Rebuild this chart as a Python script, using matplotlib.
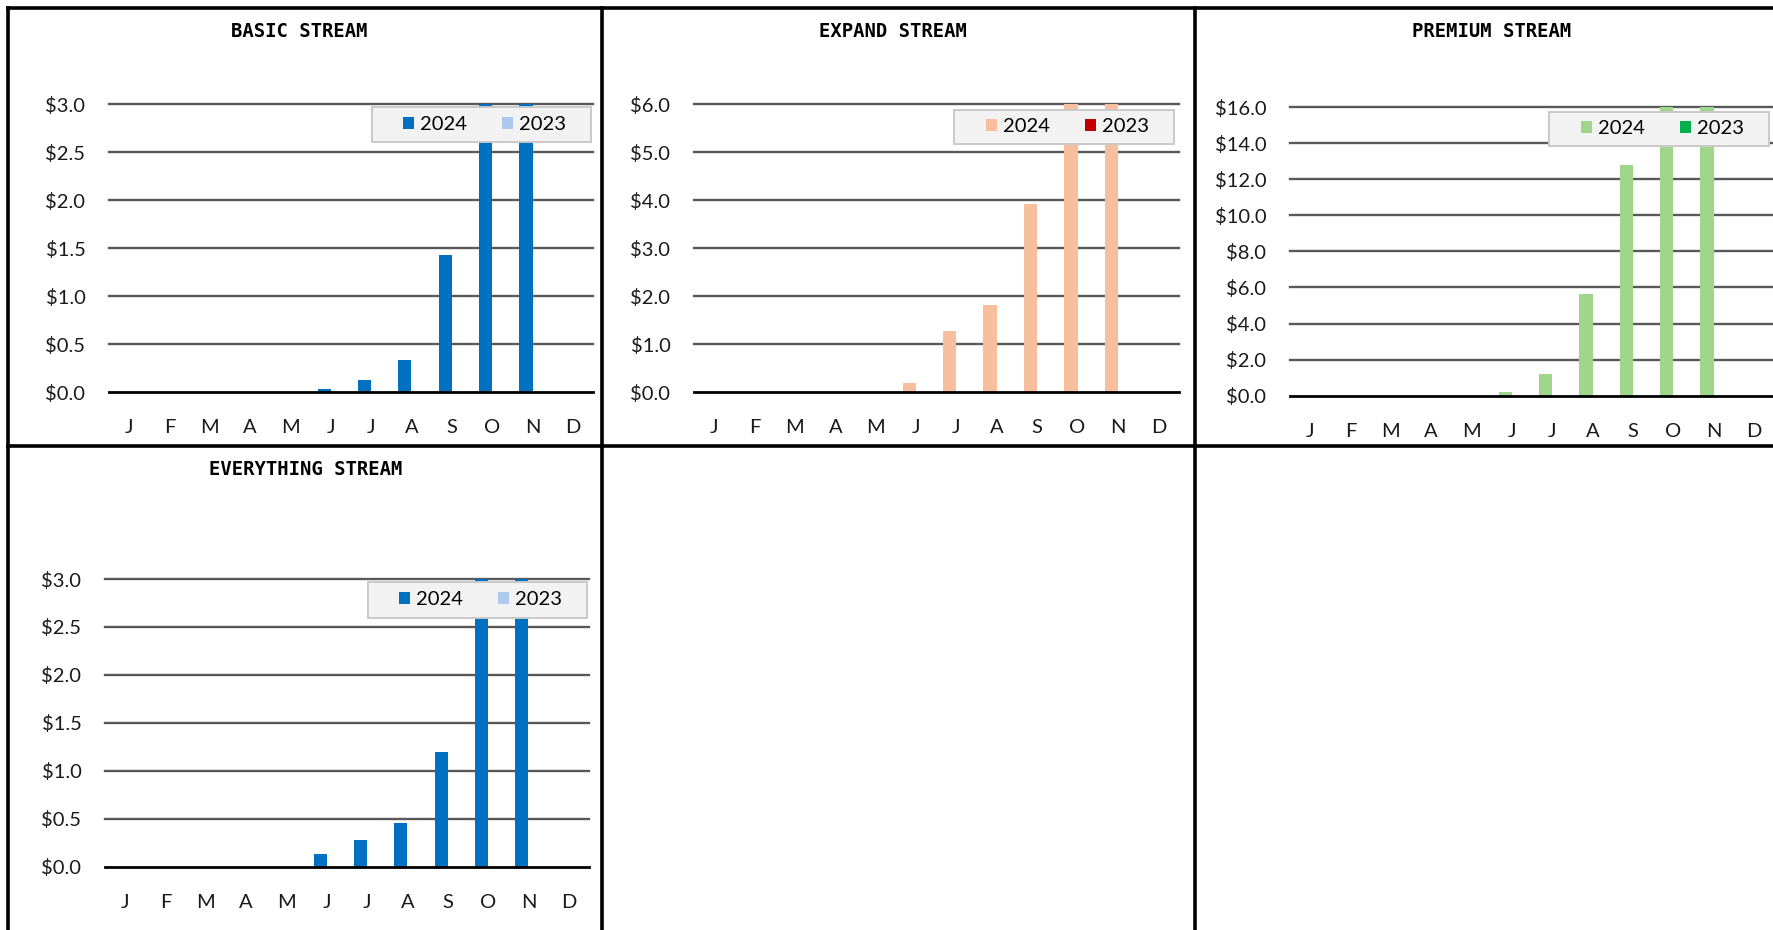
import matplotlib

matplotlib.use("Agg")
import matplotlib.pyplot as plt
import numpy as np
from matplotlib.lines import Line2D
from matplotlib.patches import Rectangle


FIG_W, FIG_H = 1773, 930
DPI = 100
LABEL_FONT = "Lato"
TITLE_FONT = "DejaVu Sans Mono"
LABEL_SIZE = 14.5
TITLE_SIZE = 13.6
GRID_COLOR = "#595959"
LEGEND_FACE = "#f2f2f2"
LEGEND_EDGE = "#c9c9c9"

MONTHS = ["J", "F", "M", "A", "M", "J", "J", "A", "S", "O", "N", "D"]
YEARS = ["2024", "2023"]

# monthly totals in $; Oct/Nov run past the top of each axis
BASIC_2024 = [0, 0, 0, 0, 0, 0.03, 0.13, 0.34, 1.43, 3.9, 4.4, 0]
BASIC_2023 = [0, 0, 0, 0, 0, 0, 0, 0, 0, 0, 0, 0]
EXPAND_2024 = [0, 0, 0, 0, 0, 0.19, 1.28, 1.82, 3.92, 7.6, 8.3, 0]
EXPAND_2023 = [0, 0, 0, 0, 0, 0, 0, 0, 0, 0, 0, 0]
PREMIUM_2024 = [0, 0, 0, 0, 0, 0.2, 1.22, 5.64, 12.79, 22.5, 25.1, 0]
PREMIUM_2023 = [0, 0, 0, 0, 0, 0, 0, 0, 0, 0, 0, 0]
EVERYTHING_2024 = [0, 0, 0, 0, 0, 0.13, 0.28, 0.46, 1.2, 4.2, 4.8, 0]
EVERYTHING_2023 = [0, 0, 0, 0, 0, 0, 0, 0, 0, 0, 0, 0]

# layout in pixels from the top-left corner of the sheet
PANELS = [
    {
        "title": "BASIC STREAM",
        "series": (BASIC_2024, BASIC_2023),
        "colors": ("#0070c0", "#aec8ee"),
        "ymax": 3.0, "ystep": 0.5,
        "axes": (109, 104.3, 593, 392.3),
        "title_xy": (299.5, 31.7),
        "legend_box": (371.7, 107, 219, 35),
    },
    {
        "title": "EXPAND STREAM",
        "series": (EXPAND_2024, EXPAND_2023),
        "colors": ("#f8bf9f", "#c00000"),
        "ymax": 6.0, "ystep": 1.0,
        "axes": (694, 104.3, 1178.5, 392.3),
        "title_xy": (893, 31.7),
        "legend_box": (954, 110, 220, 34),
    },
    {
        "title": "PREMIUM STREAM",
        "series": (PREMIUM_2024, PREMIUM_2023),
        "colors": ("#a0d68c", "#00b050"),
        "ymax": 16.0, "ystep": 2.0,
        "axes": (1290, 107, 1774, 395.7),
        "title_xy": (1492, 31.7),
        "legend_box": (1549, 112, 220, 34),
    },
    {
        "title": "EVERYTHING STREAM",
        "series": (EVERYTHING_2024, EVERYTHING_2023),
        "colors": ("#0070c0", "#aec8ee"),
        "ymax": 3.0, "ystep": 0.5,
        "axes": (105, 579, 589, 866.7),
        "title_xy": (305.5, 469.3),
        "legend_box": (367.5, 582, 219.5, 35.5),
    },
]


def fx(px: float) -> float:
    return px / FIG_W


def fy(py: float) -> float:
    return 1 - py / FIG_H


def draw_panel(fig, panel: dict) -> None:
    left, top, right, bottom = panel["axes"]
    ax = fig.add_axes([fx(left), fy(bottom), fx(right - left), (bottom - top) / FIG_H])

    x = np.arange(len(MONTHS))
    width = 0.33
    handles = []
    for i, (values, color, year) in enumerate(zip(panel["series"], panel["colors"], YEARS)):
        offset = (i - 0.5) * width
        bars = ax.bar(x + offset, values, width=width, color=color, label=year, zorder=2)
        handles.append(bars)

    ymax = panel["ymax"]
    ticks = np.arange(0, ymax + panel["ystep"] / 2, panel["ystep"])
    for t in ticks[1:]:
        ax.axhline(t, color=GRID_COLOR, linewidth=1.7, zorder=1, clip_on=False)
    ax.axhline(0, color="black", linewidth=2.0, zorder=3, clip_on=False)

    ax.set_xlim(-0.5, len(MONTHS) - 0.5)
    ax.set_ylim(0, ymax)
    ax.set_xticks(x)
    ax.set_xticklabels(MONTHS)
    ax.set_yticks(ticks)
    ax.set_yticklabels([f"${t:.1f}" for t in ticks])
    ax.tick_params(axis="both", length=0, labelsize=LABEL_SIZE, colors="#1a1a1a")
    ax.tick_params(axis="y", pad=17)
    ax.tick_params(axis="x", pad=19.5)
    for label in ax.get_xticklabels() + ax.get_yticklabels():
        label.set_fontfamily(LABEL_FONT)
    for spine in ax.spines.values():
        spine.set_visible(False)
    ax.patch.set_visible(False)

    # legend frame sits over the tall bars, legend entries on top of it
    bx, by, bw, bh = panel["legend_box"]
    frame = Rectangle(
        (fx(bx), fy(by + bh)), fx(bw), bh / FIG_H,
        transform=fig.transFigure, facecolor=LEGEND_FACE, edgecolor=LEGEND_EDGE,
        linewidth=1.4, zorder=4, clip_on=False,
    )
    ax.add_artist(frame)
    ax.legend(
        handles=handles, labels=YEARS, loc="center",
        bbox_to_anchor=(fx(bx + bw / 2 + 3.5), fy(by + bh / 2)),
        bbox_transform=fig.transFigure, ncol=2, frameon=False,
        prop={"family": LABEL_FONT, "size": LABEL_SIZE},
        handlelength=0.55, handleheight=0.55, handletextpad=0.3,
        columnspacing=1.75, borderpad=0, borderaxespad=0,
    )

    tx, ty = panel["title_xy"]
    fig.text(fx(tx), fy(ty), panel["title"], ha="center", va="center",
             family=TITLE_FONT, weight="bold", size=TITLE_SIZE, color="black")


def draw_cell_borders(fig) -> None:
    lw = 2.6
    segments = [
        ((7.8, 1773), (8.5, 8.5)),
        ((7.8, 1773), (446.5, 446.5)),
        ((7.8, 7.8), (8.5, 930)),
        ((601.5, 601.5), (8.5, 930)),
        ((1194.5, 1194.5), (8.5, 930)),
    ]
    for xs, ys in segments:
        fig.add_artist(Line2D([fx(v) for v in xs], [fy(v) for v in ys],
                              color="black", linewidth=lw, solid_capstyle="projecting"))


def main() -> None:
    fig = plt.figure(figsize=(FIG_W / DPI, FIG_H / DPI), dpi=DPI, facecolor="white")
    for panel in PANELS:
        draw_panel(fig, panel)
    draw_cell_borders(fig)
    fig.savefig("out.png", dpi=DPI, facecolor="white")
    plt.close(fig)


if __name__ == "__main__":
    main()
